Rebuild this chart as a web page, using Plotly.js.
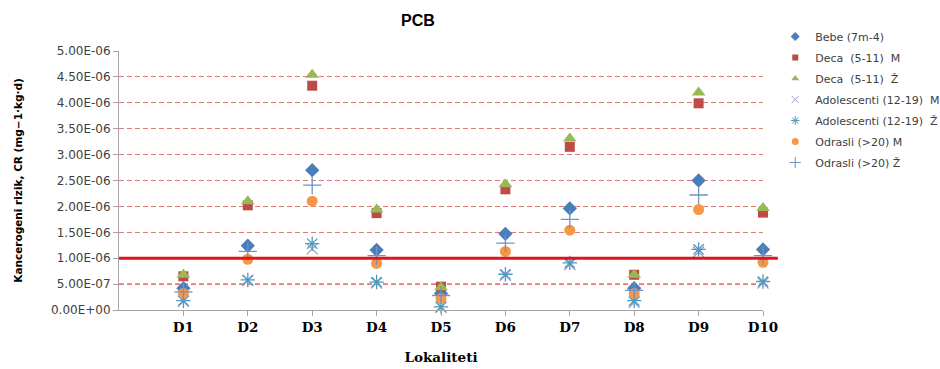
<!DOCTYPE html>
<html><head><meta charset="utf-8">
<script src="https://cdn.plot.ly/plotly-3.0.1.min.js"></script>
<style>html,body{margin:0;padding:0;background:#fff}#chart{width:940px;height:369px}</style>
</head><body><div id="chart"></div>
<script>
const categories = ['D1','D2','D3','D4','D5','D6','D7','D8','D9','D10'];
const bebe      = [0.42e-6,1.24e-6,2.70e-6,1.16e-6,0.32e-6,1.47e-6,1.96e-6,0.42e-6,2.50e-6,1.17e-6];
const decaM     = [0.65e-6,2.02e-6,4.33e-6,1.87e-6,0.45e-6,2.33e-6,3.15e-6,0.68e-6,3.99e-6,1.88e-6];
const decaZ     = [0.68e-6,2.10e-6,4.54e-6,1.94e-6,0.44e-6,2.43e-6,3.31e-6,0.68e-6,4.20e-6,1.97e-6];
const adolM     = [0.17e-6,0.57e-6,1.18e-6,0.52e-6,0.05e-6,0.67e-6,0.88e-6,0.15e-6,1.12e-6,0.52e-6];
const adolZ     = [0.18e-6,0.58e-6,1.28e-6,0.54e-6,0.06e-6,0.69e-6,0.91e-6,0.18e-6,1.17e-6,0.55e-6];
const odrasliM  = [0.32e-6,0.98e-6,2.10e-6,0.90e-6,0.22e-6,1.13e-6,1.54e-6,0.32e-6,1.94e-6,0.92e-6];
const odrasliZ  = [0.35e-6,1.13e-6,2.41e-6,1.05e-6,0.28e-6,1.29e-6,1.75e-6,0.38e-6,2.22e-6,1.05e-6];
const seriesNames = ['Bebe (7m-4)','Deca  (5-11)  M','Deca  (5-11)  Ž','Adolescenti (12-19)  M','Adolescenti (12-19)  Ž','Odrasli (>20) M','Odrasli (>20) Ž'];
const yTickVals = [0,5e-7,1e-6,1.5e-6,2e-6,2.5e-6,3e-6,3.5e-6,4e-6,4.5e-6,5e-6];
const yTickText = ['0.00E+00','5.00E-07','1.00E-06','1.50E-06','2.00E-06','2.50E-06','3.00E-06','3.50E-06','4.00E-06','4.50E-06','5.00E-06'];
const limitValue = 1e-6;
const darkGridValue = 5e-7;

const styles = [
  {symbol:'diamond', size:11, color:'#4a7ebb'},
  {symbol:'square', size:10, color:'#be4b48'},
  {symbol:'triangle-up', size:12, color:'#98b954'},
  {symbol:'x-thin-open', size:11, color:'#a99bc4', lw:1.3},
  {symbol:'asterisk-open', size:12, color:'#4a9bbf', lw:1.3},
  {symbol:'circle', size:11, color:'#f79646'},
  {symbol:'cross-thin-open', size:13, color:'#6f93c4', lw:1.3}
];
const data = [bebe,decaM,decaZ,adolM,adolZ,odrasliM,odrasliZ];
const traces = data.map((ys,i)=>({
  type:'scatter', mode:'markers', name:seriesNames[i], showlegend:false, legendgroup:'g'+i,
  x:categories, y:ys, cliponaxis:false,
  marker:{symbol:styles[i].symbol, size:styles[i].size, color:styles[i].color,
          line:{color:styles[i].color, width:styles[i].lw||0}}
}));
// legend entries with smaller symbols (as in the reference legend)
const legendTraces = data.map((ys,i)=>({
  type:'scatter', mode:'markers', name:seriesNames[i], legendgroup:'g'+i,
  x:[null], y:[null],
  marker:{symbol:styles[i].symbol, size:Math.round(styles[i].size*0.62), color:styles[i].color,
          line:{color:styles[i].color, width:styles[i].lw?1:0}}
}));

const layout = {
  width:940, height:369,
  margin:{l:119, r:177, t:51, b:59, autoexpand:false},
  paper_bgcolor:'#fff', plot_bgcolor:'#fff',
  font:{family:'DejaVu Sans, sans-serif', color:'#404040'},
  title:{text:'<b>PCB</b>', x:418/940, xanchor:'center', y:0.945, yanchor:'middle', font:{family:'Liberation Sans, Arial, sans-serif', size:16, color:'#000'}},
  xaxis:{type:'category', range:[-1,9], showgrid:false, zeroline:false,
    showline:true, linecolor:'#a6a6a6', linewidth:1, ticks:'outside', ticklen:5, tickcolor:'#a6a6a6',
    tickfont:{family:'DejaVu Serif, serif', size:13.5, color:'#000', weight:'bold'},
    title:{text:'<b>Lokaliteti</b>', standoff:18, font:{family:'DejaVu Serif, serif', size:13.5, color:'#000'}}},
  yaxis:{range:[0,5e-6], tickvals:yTickVals, ticktext:yTickText,
    showgrid:true, gridcolor:'#de7a78', griddash:'5px,3px', gridwidth:1, zeroline:false,
    showline:true, linecolor:'#a6a6a6', linewidth:1, ticks:'outside', ticklen:5, tickcolor:'#a6a6a6',
    tickfont:{family:'DejaVu Sans, sans-serif', size:12, color:'#404040'},
    title:{text:'<b>Kancerogeni rizik, CR (mg−1·kg·d)</b>', standoff:26, font:{family:'DejaVu Sans, sans-serif', size:10.5, color:'#000'}}},
  legend:{x:1.019, xanchor:'left', y:1.112, yanchor:'top', font:{family:'DejaVu Sans, sans-serif', size:11, color:'#404040'},
    itemwidth:30, traceorder:'grouped', tracegroupgap:2, bgcolor:'rgba(0,0,0,0)'},
  shapes:[
    {type:'line', xref:'paper', x0:0, x1:1, yref:'y', y0:darkGridValue, y1:darkGridValue, line:{color:'#8b1a1a', width:1, dash:'5px,3px'}, layer:'below'},
    {type:'line', xref:'paper', x0:0, x1:1.023, yref:'y', y0:limitValue, y1:limitValue, line:{color:'#e0141c', width:3}, layer:'above'}
  ]
};
Plotly.newPlot('chart', traces.concat(legendTraces), layout, {displayModeBar:false, staticPlot:true});
</script></body></html>
